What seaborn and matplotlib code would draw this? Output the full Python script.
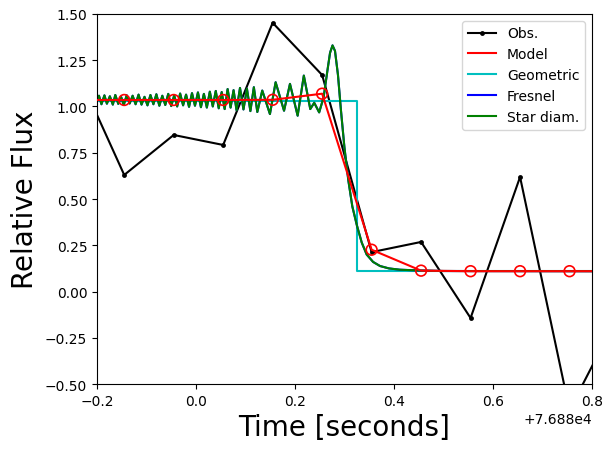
import numpy as np
import seaborn as sns
import matplotlib
matplotlib.use("Agg")
import matplotlib.pyplot as plt

# reference epoch (seconds), shown as axis offset
t0 = 76880.0

# observed light curve
obs_time = [-0.245, -0.145, -0.045, 0.055, 0.155, 0.255, 0.355, 0.455, 0.555, 0.655, 0.755, 0.855]
obs_flux = [1.22, 0.630, 0.846, 0.792, 1.452, 1.170, 0.213, 0.268, -0.143, 0.619, -0.64, -0.12]

# model integrated at the observation times
model_time = [-0.245, -0.145, -0.045, 0.055, 0.155, 0.255, 0.355, 0.455, 0.555, 0.655, 0.755, 0.855]
model_flux = [1.035, 1.035, 1.035, 1.035, 1.036, 1.069, 0.226, 0.113, 0.110, 0.110, 0.110, 0.110]

# geometric (square) model
geo_time = [-0.25, 0.325, 0.325, 0.90]
geo_flux = [1.03, 1.03, 0.11, 0.11]

# diffraction curve (Fresnel / star diameter), read point by point
fres_time = [-0.200, -0.196, -0.191, -0.185, -0.180, -0.174, -0.168, -0.163, -0.157, -0.151,
             -0.146, -0.140, -0.134, -0.128, -0.122, -0.116, -0.110, -0.104, -0.098, -0.092,
             -0.086, -0.080, -0.074, -0.068, -0.062, -0.056, -0.050, -0.044, -0.038, -0.032,
             -0.026, -0.020, -0.014, -0.008, -0.002, 0.004, 0.010, 0.016, 0.022, 0.028,
             0.034, 0.040, 0.046, 0.052, 0.058, 0.064, 0.070, 0.076, 0.082, 0.089,
             0.096, 0.103, 0.110, 0.117, 0.124, 0.134, 0.1495, 0.161, 0.178, 0.190,
             0.2055, 0.218, 0.231, 0.239, 0.249, 0.258, 0.266, 0.271, 0.276, 0.281,
             0.287, 0.293, 0.300, 0.308, 0.316, 0.325, 0.335, 0.345, 0.358, 0.372,
             0.390, 0.412, 0.450, 0.500, 0.800]
fres_flux = [1.040, 1.058, 1.012, 1.060, 1.015, 1.055, 1.010, 1.062, 1.014, 1.050,
             1.008, 1.060, 1.016, 1.058, 1.012, 1.064, 1.010, 1.052, 1.006, 1.062,
             1.012, 1.066, 1.004, 1.058, 1.008, 1.068, 1.002, 1.060, 1.000, 1.070,
             1.006, 1.064, 0.998, 1.072, 1.004, 1.076, 0.996, 1.068, 0.994, 1.080,
             1.000, 1.084, 0.990, 1.078, 0.986, 1.094, 0.994, 1.088, 0.980, 1.100,
             0.984, 1.096, 0.975, 1.104, 0.970, 1.086, 0.959, 1.131, 0.977, 1.122,
             0.950, 1.167, 0.986, 1.020, 0.968, 1.050, 1.200, 1.290, 1.330, 1.300,
             1.170, 0.980, 0.780, 0.600, 0.460, 0.360, 0.265, 0.200, 0.160, 0.138,
             0.125, 0.118, 0.114, 0.111, 0.110]


def shift(ts):
    return np.array(ts) + t0


fig, ax = plt.subplots(figsize=(6.12, 4.52), dpi=100)
fig.subplots_adjust(left=0.1585, right=0.967, top=0.967, bottom=0.148)

sns.lineplot(x=shift(obs_time), y=obs_flux, color="k", marker=".", markersize=7,
             markeredgewidth=0, sort=False, estimator=None, label="Obs.", ax=ax, zorder=1)
sns.lineplot(x=shift(model_time), y=model_flux, color="r", sort=False, estimator=None,
             label="Model", ax=ax, zorder=3)
sns.scatterplot(x=shift(model_time), y=model_flux, s=60, facecolor="none", edgecolor="r",
                linewidth=1.2, ax=ax, zorder=4)
sns.lineplot(x=shift(geo_time), y=geo_flux, color="c", sort=False, estimator=None,
             label="Geometric", ax=ax, zorder=2)
sns.lineplot(x=shift(fres_time), y=fres_flux, color="b", sort=False, estimator=None,
             label="Fresnel", ax=ax, zorder=2)
sns.lineplot(x=shift(fres_time), y=fres_flux, color="g", sort=False, estimator=None,
             label="Star diam.", ax=ax, zorder=2)

ax.set_xlim(t0 - 0.2, t0 + 0.8)
ax.set_ylim(-0.5, 1.5)
ax.set_xlabel("Time [seconds]", fontsize=20)
ax.set_ylabel("Relative Flux", fontsize=20)
ax.legend(loc="upper right")

fig.savefig("out.png", dpi=100)
